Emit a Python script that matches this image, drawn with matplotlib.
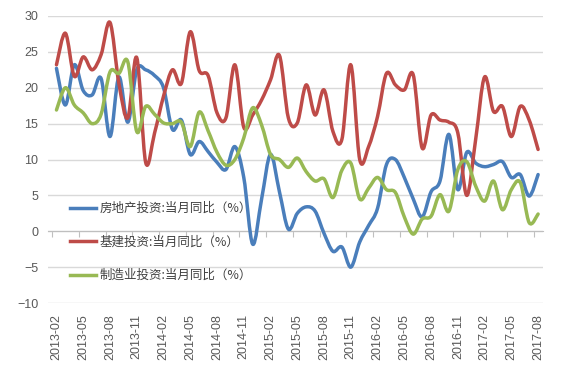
import numpy as np
import matplotlib
matplotlib.use("Agg")
import matplotlib.pyplot as plt
from matplotlib.path import Path
from matplotlib.patches import PathPatch
from matplotlib.lines import Line2D

# monthly, 2013-02 .. 2017-08
months = [f"{y}-{m:02d}" for y in range(2013, 2018) for m in range(1, 13)]
months = months[months.index("2013-02"):months.index("2017-08") + 1]

realty = [22.7, 17.6, 23.2, 19.6, 19.0, 21.3, 13.2, 21.5, 15.2, 22.5,
          22.5, 21.7, 20.0, 14.2, 15.5, 10.7, 12.5, 11.1, 9.6, 8.6,
          11.8, 7.5, -1.8, 4.5, 10.7, 5.5, 0.3, 2.5, 3.4, 2.8,
          -0.3, -2.8, -2.2, -5.0, -1.5, 0.8, 3.2, 9.3, 10.0, 7.5,
          4.5, 2.0, 5.5, 7.0, 13.5, 5.8, 11.0, 9.5, 9.0, 9.3,
          9.7, 7.5, 7.9, 4.9, 7.9]
infra = [23.2, 27.6, 21.6, 24.3, 22.5, 24.6, 29.1, 20.6, 15.8, 24.2,
         9.6, 13.7, 18.8, 22.5, 20.6, 27.8, 22.4, 21.7, 16.5, 15.8,
         23.2, 14.5, 16.2, 18.3, 21.1, 24.5, 15.8, 15.1, 20.4, 16.2,
         19.7, 13.9, 12.8, 23.2, 10.0, 11.8, 16.0, 22.0, 20.4, 19.7,
         21.8, 11.6, 16.2, 15.5, 15.2, 13.7, 5.0, 12.8, 21.5, 16.7,
         17.4, 13.2, 17.4, 15.5, 11.4]
manuf = [16.9, 20.0, 17.6, 16.5, 15.0, 16.3, 22.2, 22.0, 23.6, 13.9,
         17.4, 16.3, 15.1, 15.0, 15.2, 11.8, 16.6, 14.0, 11.0, 9.2,
         10.0, 13.0, 17.2, 14.8, 10.7, 10.0, 8.9, 10.2, 8.3, 7.0,
         7.3, 4.7, 8.5, 9.5, 4.5, 6.0, 7.5, 5.8, 5.4, 2.0,
         -0.4, 1.7, 2.1, 5.1, 2.8, 8.6, 9.7, 6.3, 4.2, 7.0,
         3.0, 5.8, 6.8, 1.2, 2.4]

names = ["房地产投资:当月同比（%）", "基建投资:当月同比（%）", "制造业投资:当月同比（%）"]
colors = ["#4A7EBB", "#BE4B48", "#98B954"]

plt.rcParams["font.family"] = ["Noto Sans CJK SC", "DejaVu Sans"]
grey = "#595959"


def smooth_path(x, y):
    # excel style smoothed line: catmull-rom segments as cubic beziers
    p = np.column_stack([x, y]).astype(float)
    pts = [p[0]]
    codes = [Path.MOVETO]
    n = len(p)
    for i in range(n - 1):
        p0 = p[max(i - 1, 0)]
        p1, p2 = p[i], p[i + 1]
        p3 = p[min(i + 2, n - 1)]
        pts += [p1 + (p2 - p0) / 6, p2 - (p3 - p1) / 6, p2]
        codes += [Path.CURVE4] * 3
    return Path(pts, codes)


fig = plt.figure(figsize=(5.61, 3.69), dpi=100)
ax = fig.add_axes([48 / 561, 1 - 303 / 369, 495 / 561, 287 / 369])

x = np.arange(len(months))
handles = []
for vals, c, name in zip([realty, infra, manuf], colors, names):
    ax.add_patch(PathPatch(smooth_path(x, vals), fill=False, edgecolor=c,
                           lw=2.5, capstyle="round", joinstyle="round", zorder=3))
    handles.append(Line2D([], [], color=c, lw=2.5, label=name))

ax.set_xlim(-0.95, len(months) - 0.45)
ax.set_ylim(-10, 30)
ax.set_yticks(range(-10, 31, 5))
ax.yaxis.grid(True, color="#D9D9D9", lw=1)
ax.set_axisbelow(True)
for s in ["top", "right", "left"]:
    ax.spines[s].set_visible(False)
ax.tick_params(axis="y", length=0, pad=7, labelsize=9, labelcolor=grey)
for t in ax.get_yticklabels():
    t.set_fontfamily("Liberation Sans")

# category axis crossing at zero, tick marks between categories
ax.spines["bottom"].set_position(("data", 0))
ax.spines["bottom"].set_color("#BFBFBF")
ax.set_xticks(np.arange(0, len(months), 3) - 0.5)
ax.set_xticklabels([])
ax.tick_params(axis="x", length=4, color="#BFBFBF")

sec = ax.secondary_xaxis("bottom")
sec.spines["bottom"].set_visible(False)
sec.set_xticks(x[::3])
sec.set_xticklabels(months[::3], rotation=90, fontsize=9, color=grey,
                    fontfamily="Liberation Sans")
sec.tick_params(length=0, pad=8)

ax.legend(handles=handles, loc="upper left", frameon=False,
          bbox_to_anchor=(70 / 561, 1 - 202 / 369), bbox_transform=fig.transFigure,
          borderpad=0, borderaxespad=0, handlelength=2.1, handletextpad=0.25,
          labelspacing=1.65, fontsize=9, labelcolor="#404040")

fig.savefig("out.png", dpi=100)
